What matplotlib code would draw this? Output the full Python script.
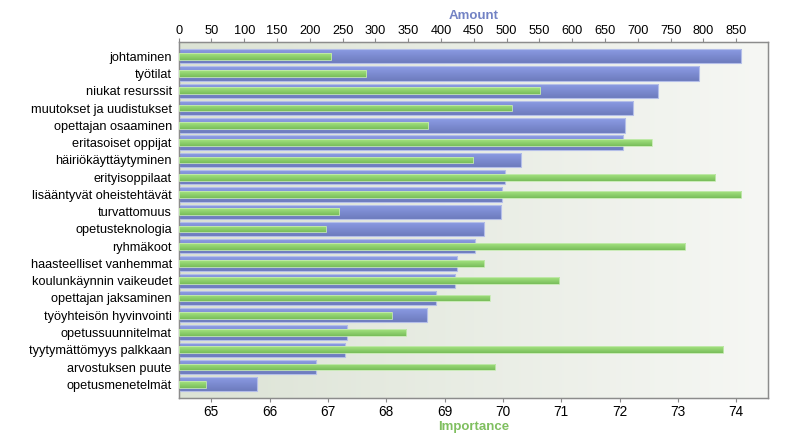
import numpy as np
import matplotlib
matplotlib.use("Agg")
import matplotlib.pyplot as plt
from matplotlib.colors import LinearSegmentedColormap

plt.rcParams['font.family'] = ['Liberation Sans', 'DejaVu Sans']

categories = ["johtaminen", "työtilat", "niukat resurssit", "muutokset ja uudistukset",
              "opettajan osaaminen", "eritasoiset oppijat", "häiriökäyttäytyminen",
              "erityisoppilaat", "lisääntyvät oheistehtävät", "turvattomuus",
              "opetusteknologia", "ryhmäkoot", "haasteelliset vanhemmat",
              "koulunkäynnin vaikeudet", "opettajan jaksaminen", "työyhteisön hyvinvointi",
              "opetussuunnitelmat", "tyytymättömyys palkkaan", "arvostuksen puute",
              "opetusmenetelmät"]
amount = [857, 794, 731, 693, 681, 677, 522, 497, 493, 492,
          466, 452, 425, 422, 393, 379, 257, 254, 210, 120]
importance = [67.06, 67.66, 70.64, 70.15, 68.71, 72.55, 69.49, 73.64, 74.08, 67.19,
              66.96, 73.12, 69.67, 70.96, 69.77, 68.09, 68.34, 73.77, 69.86, 64.90]
amount_ticks = list(range(0, 851, 50))
importance_ticks = list(range(65, 75))
amount_range = (0, 899)
importance_range = (64.44, 74.55)

W, H = 788, 443
fig = plt.figure(figsize=(W / 100, H / 100), dpi=100)
L, R, T, B = 178.7, 768.3, 42.3, 398.3
ax = fig.add_axes([L / W, 1 - B / H, (R - L) / W, (B - T) / H])

# plot background gradient
bg = LinearSegmentedColormap.from_list("bg", ["#dce3d5", "#f6f7f4"])
ax.imshow(np.linspace(0, 1, 256)[None, :], extent=[0, 1, 0, 1], transform=ax.transAxes,
          aspect='auto', cmap=bg, zorder=0, interpolation='bicubic')

ypos = np.arange(len(categories))


def gradient_bars(axis, bars, top, bottom, zorder):
    cmap = LinearSegmentedColormap.from_list("g", [top, bottom])
    grad = np.linspace(0, 1, 64)[:, None]
    for b in bars:
        x0, y0 = b.get_x(), b.get_y()
        w, h = b.get_width(), b.get_height()
        im = axis.imshow(grad, extent=[x0, x0 + w, y0 + h, y0], aspect='auto',
                         cmap=cmap, zorder=zorder, interpolation='bilinear')
        im.set_clip_path(b)


blue = ax.barh(ypos, amount, height=0.83, color="#7c8bd3", edgecolor="#b4bee8",
               linewidth=0.8, zorder=2)
gradient_bars(ax, blue, "#8d9de6", "#6d7bbd", 2.5)
for b in blue:
    b.set_facecolor("none")
    b.set_zorder(3)

ax.set_xlim(*amount_range)
ax.set_ylim(19.81, -0.81)
ax.set_yticks(ypos)
ax.set_yticklabels(categories, fontsize=9.2)
ax.tick_params(axis='y', length=0, pad=5)
for s in ax.spines.values():
    s.set_color("#8c8c8c")
    s.set_linewidth(1.0)

ax2 = ax.twiny()
ax2.patch.set_visible(False)
base = importance_range[0]
green = ax2.barh(ypos, np.array(importance) - base, left=base, height=0.39,
                 color="#8fd06e", edgecolor="#c4eab0", linewidth=0.6, zorder=4)
ax2.set_xlim(*importance_range)
gradient_bars(ax2, green, "#a6e482", "#78bd5a", 4.5)
for b in green:
    b.set_facecolor("none")
    b.set_zorder(5)
ax2.set_xlim(*importance_range)
ax2.xaxis.set_ticks_position('bottom')
ax2.xaxis.set_label_position('bottom')
ax2.set_xticks(importance_ticks)
ax2.set_xticklabels([str(t) for t in importance_ticks], fontsize=9.8)
ax2.set_xlabel("Importance", fontsize=9.5, fontweight='bold', color="#7fbf5f", labelpad=2)
ax2.tick_params(axis='x', length=3, color="#888888", pad=1.5)
for s in ax2.spines.values():
    s.set_color("#8c8c8c")

ax.xaxis.set_ticks_position('top')
ax.xaxis.set_label_position('top')
ax.set_xticks(amount_ticks)
ax.set_xticklabels([str(t) for t in amount_ticks], fontsize=9.2)
ax.set_xlabel("Amount", fontsize=9.5, fontweight='bold', color="#7282c4", labelpad=4.5)
ax.tick_params(axis='x', length=3, color="#888888", pad=0.5)
ax.set_xlim(*amount_range)
ax.set_ylim(19.81, -0.81)

fig.savefig("out.png", dpi=100)
